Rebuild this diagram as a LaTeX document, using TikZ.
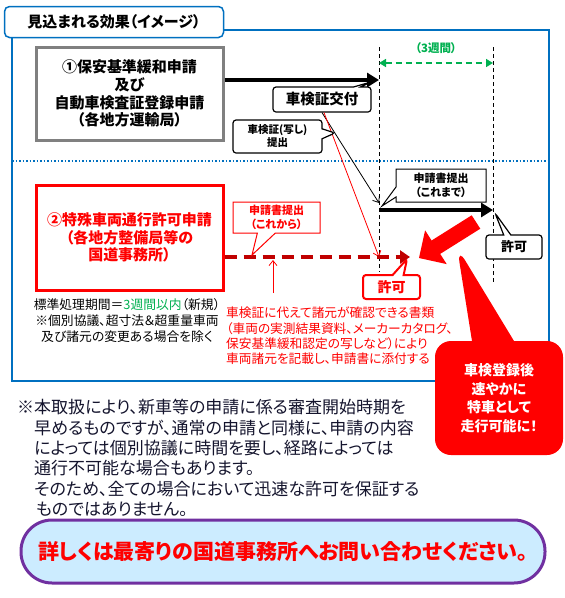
\documentclass[tikz,border=0pt]{standalone}
\usepackage{fontspec}
\setmainfont{Noto Sans CJK JP}[RawFeature=+palt]
\usetikzlibrary{shapes.callouts,arrows.meta,positioning}
\definecolor{frameblue}{RGB}{0,112,192}
\definecolor{okgreen}{RGB}{0,176,80}
\definecolor{darkred}{RGB}{192,0,0}
\definecolor{boxgray}{RGB}{128,128,128}
\definecolor{lightblue}{RGB}{204,236,255}
\definecolor{purpleline}{RGB}{112,48,160}
\definecolor{navytext}{RGB}{20,20,45}
\newcommand{\jpsize}[2]{\fontsize{#1}{#2}\selectfont}
\tikzstyle{callbox}=[rectangle callout, draw, line width=1.2pt, fill=white, rounded corners=3pt, align=center, inner sep=0pt]
\tikzstyle{redcall}=[callbox, draw=red, text=red]
\tikzstyle{guide}=[dash pattern=on 4pt off 3pt, line width=0.8pt]
\tikzstyle{thinarrow}=[-{Straight Barb[length=5pt,width=8pt]}, line width=0.8pt]
\tikzstyle{fatarrow}=[-{Triangle[length=12pt,width=14pt]}, line width=4pt]
\tikzstyle{planline}=[darkred, line width=4pt, dash pattern=on 12pt off 7pt, -{Triangle[length=10pt,width=13pt]}]
\tikzstyle{period}=[okgreen, line width=1.6pt, dash pattern=on 6pt off 4pt, {Triangle[length=7pt,width=8pt]}-{Triangle[length=7pt,width=8pt]}]
\tikzstyle{bigbox}=[align=center, minimum width=187pt, line width=3pt, font=\jpsize{15}{17.8}\bfseries]

\begin{document}
\begin{tikzpicture}[x=1pt,y=-1pt]
\useasboundingbox (0,0) rectangle (565,598);
% frame and title
\draw[frameblue, line width=1.2pt] (12,30) rectangle (549,381);
\draw[frameblue, line width=1.5pt, dotted] (12,161) -- (549,161);
\node[draw=frameblue, line width=1.5pt, fill=white, rounded corners=5pt, minimum width=219pt, minimum height=31pt, font=\jpsize{15}{18}\bfseries] (title) at (114,22) {見込まれる効果（イメージ）};

% the two applications
\node[bigbox, draw=boxgray, minimum height=93pt] (hoan) at (129.5,93.5) {①保安基準緩和申請\\及び\\自動車検査証登録申請\\（各地方運輸局）};
\node[bigbox, draw=red, text=red, minimum height=105pt] (tokkyo) at (129.5,237.5) {②特殊車両通行許可申請\\（各地方整備局等の\\国道事務所）};

% time marks
\coordinate (d1a) at (379,47); \coordinate (d1b) at (379,272);
\coordinate (d2a) at (493,47); \coordinate (d2b) at (493,283);
\draw[guide] (d1a) -- (d1b);
\draw[guide] (d2a) -- (d2b);
\coordinate (w1) at (379,63); \coordinate (w2) at (493,63);
\draw[period] (w1) -- (w2);
\node[text=okgreen, font=\jpsize{11.5}{13}\bfseries] (weeks) at (436,48) {（3週間）};

% before
\coordinate (kofuTip) at (379,80);
\draw[fatarrow] (hoan.east |- kofuTip) -- (kofuTip);
\coordinate (kofuPt) at (371,82);
\node[callbox, minimum width=98pt, minimum height=25pt, callout absolute pointer={(kofuPt)}, font=\jpsize{14.5}{16}\bfseries] (kofu) at (322,99.5) {車検証交付};
\coordinate (subA) at (379,203); \coordinate (subB) at (379,257);
\draw[thinarrow] (kofu.south) -- (subA);
\draw[thinarrow, red] ([xshift=2pt]kofu.south) -- (subB);
\coordinate (utTip) at (335,133);
\node[callbox, minimum width=89pt, minimum height=33pt, callout absolute pointer={(utTip)}, callout pointer width=10pt, font=\jpsize{10.5}{13}\bfseries] (utsushi) at (277.5,136.5) {車検証(写し)\\提出};
\coordinate (s1) at (379,210); \coordinate (s2) at (493,210);
\draw[fatarrow] (s1) -- (s2);
\coordinate (kmTip) at (382,206);
\node[callbox, rounded corners=0pt, line width=1pt, minimum width=90pt, minimum height=33pt, callout absolute pointer={(kmTip)}, callout pointer width=10pt, font=\jpsize{11}{13.5}\bfseries] (koremade) at (441,185.5) {申請書提出\\（これまで）};
\coordinate (k1Tip) at (495,213);
\node[callbox, minimum width=56pt, minimum height=24pt, callout absolute pointer={(k1Tip)}, font=\jpsize{13}{15}\bfseries] (kyoka) at (514,247) {許可};

% from now on
\coordinate (kkTip) at (410,257);
\draw[planline] (tokkyo.east |- kkTip) -- (kkTip);
\coordinate (krTip) at (252,255);
\node[redcall, line width=1pt, rounded corners=0pt, minimum width=87pt, minimum height=31pt, callout absolute pointer={(krTip)}, callout pointer width=18pt, font=\jpsize{11}{13.5}\bfseries] (korekara) at (276.5,217.5) {申請書提出\\（これから）};
\coordinate (k2Tip) at (407,259);
\node[redcall, line width=2pt, minimum width=57pt, minimum height=24pt, callout absolute pointer={(k2Tip)}, callout pointer width=11pt, font=\jpsize{14}{16}\bfseries] (kyokanew) at (391.5,287) {許可};
\coordinate (noteUp) at (273,293); \coordinate (noteHit) at (273,260);
\draw[thinarrow, red] (noteUp) -- (noteHit);

\node[anchor=center, align=center, inner sep=0pt, font=\jpsize{12.8}{16}] (kikan) at (127,321) {標準処理期間＝\textcolor{okgreen}{3週間以内}（新規）\\※個別協議、超寸法＆超重量車両\\及び諸元の変更ある場合を除く};
\node[anchor=west, align=left, inner sep=0pt, text=red, font=\jpsize{12.7}{15.3}] (note) at (226,336) {車検証に代えて諸元が確認できる書類\\（車両の実測結果資料、メーカーカタログ、\\保安基準緩和認定の写しなど）により\\車両諸元を記載し、申請書に添付する};

% big red arrow and balloon
\fill[red] (471.7,215.3) -- (431.6,240.5) -- (425.1,230.3) -- (419,258) -- (446.7,264.1) -- (440.2,253.9) -- (480.3,228.7) -- cycle;
\coordinate (bigTip) at (457,247);
\node[rectangle callout, fill=red, rounded corners=16pt, minimum width=128pt, minimum height=114pt, callout absolute pointer={(bigTip)}, callout pointer width=42pt, text=white, align=center, font=\jpsize{14}{18.5}\bfseries] (tokusha) at (499,398) {車検登録後\\速やかに\\特車として\\走行可能に！};

% notes
\node[anchor=west, align=left, inner sep=0pt, text=navytext, font=\jpsize{17}{20.4}] (chui) at (17,458) {※本取扱により、新車等の申請に係る審査開始時期を\\\hspace*{1em}早めるものですが、通常の申請と同様に、申請の内容\\\hspace*{1em}によっては個別協議に時間を要し、経路によっては\\\hspace*{1em}通行不可能な場合もあります。\\\hspace*{1em}そのため、全ての場合において迅速な許可を保証する\\\hspace*{1.1em}ものではありません。};
\node[draw=purpleline, line width=3pt, fill=lightblue, rounded corners=31pt, minimum width=524pt, minimum height=63pt, text=red, font=\jpsize{21}{24}\bfseries] (toiawase) at (283,551.5) {詳しくは最寄りの国道事務所へお問い合わせください。};
\end{tikzpicture}
\end{document}
